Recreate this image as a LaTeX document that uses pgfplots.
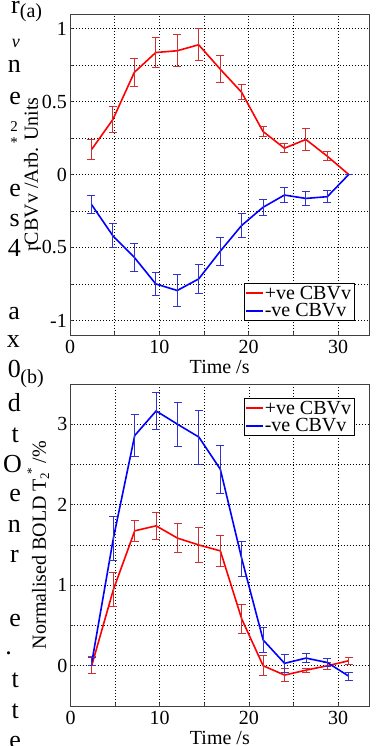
\documentclass[border=0pt]{standalone}
\usepackage{fontspec}
\setmainfont{Liberation Serif}
\usepackage{pgfplots}
\pgfplotsset{compat=1.18}
\definecolor{ebred}{RGB}{205,50,50}
\definecolor{ebblue}{RGB}{50,50,205}
\newcommand{\fs}{\fontsize{20bp}{22bp}\selectfont}
\newcommand{\fb}{\fontsize{26bp}{28bp}\selectfont}
\pgfplotsset{
  myaxis/.style={
    scale only axis, xmin=0, xmax=33.5, xtick={0,10,20,30}, minor xtick={5,15,25},
    grid=both,
    major grid style={black, line width=0.6bp, dash pattern=on 0.8bp off 2.2bp},
    minor grid style={black, line width=0.6bp, dash pattern=on 0.8bp off 2.2bp},
    axis line style={black!75, line width=0.8bp},
    tick align=inside, tick pos=left, major tick length=3bp, minor tick length=3bp,
    tick style={black!75, line width=0.6bp},
    /pgf/number format/assume math mode=true,
    ticklabel style={font=\fs, inner sep=0pt},
    xticklabel style={yshift=-5bp},
    yticklabel style={xshift=-3bp},
    label style={font=\fs, inner sep=0pt},
    xlabel style={at={(axis description cs:0.5,0)}, anchor=north, yshift=-25bp},
    legend style={font=\fs, draw=black, line width=0.8bp, inner xsep=2bp, inner ysep=2bp,
      row sep=1.5bp, cells={anchor=west}, nodes={inner xsep=1.5bp, inner ysep=0.5bp}},
    legend image code/.code={\fill[#1, draw=none] (0bp,-1bp) rectangle (17bp,1bp);},
    every axis plot/.append style={line width=1.6bp, mark=none},
  },
  eb/.style={error bars/.cd, y dir=both, y explicit,
    error bar style={line width=0.9bp, color=#1},
    error mark options={rotate=90, mark size=4bp, line width=0.9bp, color=#1}},
}
\begin{document}
\begin{tikzpicture}
\path[use as bounding box] (0,0) rectangle (376bp,746bp);
% fragments of the surrounding page text
\begin{scope}[every node/.style={font=\fb, inner sep=0pt, anchor=base east}]
\node at (20bp,732bp) {r};
\node[font=\fontsize{18bp}{18bp}\selectfont\itshape] at (20bp,698bp) {v};
\node at (21bp,673bp) {n};
\node at (21bp,641bp) {e};
\node[font=\fontsize{15bp}{15bp}\selectfont] at (18bp,614bp) {2};
\node[font=\fontsize{15bp}{15bp}\selectfont] at (18bp,598bp) {*};
\node at (21bp,549bp) {e};
\node at (20bp,519bp) {s};
\node at (21bp,489bp) {4};
\node at (20bp,426bp) {a};
\node at (20bp,398bp) {x};
\node at (21bp,368bp) {0};
\node at (21bp,334bp) {d};
\node at (19bp,303bp) {t};
\node at (22bp,273bp) {O};
\node at (21bp,244bp) {e};
\node at (21bp,213bp) {n};
\node at (19bp,183bp) {r};
\node at (21bp,119bp) {e};
\node at (12bp,91bp) {.};
\node at (19bp,58bp) {t};
\node at (19bp,28bp) {t};
\node at (21bp,-2bp) {e};
\end{scope}
\node[font=\fs, inner sep=0pt] at (31bp,733bp) {(a)};
\node[font=\fs, inner sep=0pt] at (32bp,367bp) {(b)};
% ---------------- panel (a)
\begin{axis}[myaxis, at={(70bp,411bp)}, anchor=south west,
  width=299.3bp, height=321bp, ymin=-1.1, ymax=1.1,
  ytick={-1,-0.5,0,0.5,1}, minor y tick num=1,
  xlabel={Time /s}, ylabel={rCBVv /Arb. Units},
  ylabel style={at={(axis description cs:-0.130,0.5)}, anchor=center},
  legend style={at={(axis description cs:0.952,0.0436)}, anchor=south east}]
\addplot[red, eb=ebred] coordinates {
(2.4,0.17) +- (0,0.07)
(4.8,0.377) +- (0,0.088)
(7.2,0.70) +- (0,0.097)
(9.6,0.836) +- (0,0.10)
(12,0.848) +- (0,0.11)
(14.4,0.889) +- (0,0.11)
(16.8,0.723) +- (0,0.09)
(19.2,0.564) +- (0,0.05)
(21.6,0.295) +- (0,0.037)
(24,0.18) +- (0,0.03)
(26.4,0.24) +- (0,0.075)
(28.8,0.125) +- (0,0.03)
(31.2,0) +- (0,0)
};
\addlegendentry{+ve CBVv}
\addplot[blue, eb=ebblue] coordinates {
(2.4,-0.205) +- (0,0.06)
(4.8,-0.42) +- (0,0.083)
(7.2,-0.568) +- (0,0.098)
(9.6,-0.75) +- (0,0.08)
(12,-0.795) +- (0,0.108)
(14.4,-0.716) +- (0,0.10)
(16.8,-0.527) +- (0,0.095)
(19.2,-0.35) +- (0,0.08)
(21.6,-0.225) +- (0,0.055)
(24,-0.141) +- (0,0.05)
(26.4,-0.164) +- (0,0.046)
(28.8,-0.152) +- (0,0.04)
(31.2,0) +- (0,0)
};
\addlegendentry{-ve CBVv}
\end{axis}
% ---------------- panel (b)
\begin{axis}[myaxis, at={(70.5bp,40bp)}, anchor=south west,
  width=298.8bp, height=322bp, ymin=-0.5, ymax=3.5,
  ytick={0,1,2,3}, minor y tick num=1,
  xlabel={Time /s},
  ylabel={Normalised BOLD T\rlap{\raisebox{-0.35ex}{\fontsize{13bp}{13bp}\selectfont 2}}\raisebox{1.1ex}{\fontsize{13bp}{13bp}\selectfont\,\,*}\ /\%},
  ylabel style={at={(axis description cs:-0.108,0.5)}, anchor=center},
  legend style={at={(axis description cs:0.952,0.9565)}, anchor=north east}]
\addplot[red, eb=ebred] coordinates {
(2.4,0.01) +- (0,0.11)
(4.8,0.943) +- (0,0.21)
(7.2,1.676) +- (0,0.13)
(9.6,1.738) +- (0,0.165)
(12,1.585) +- (0,0.18)
(14.4,1.50) +- (0,0.22)
(16.8,1.427) +- (0,0.19)
(19.2,0.58) +- (0,0.18)
(21.6,0.0) +- (0,0.125)
(24,-0.116) +- (0,0.08)
(26.4,-0.055) +- (0,0.025)
(28.8,0.0) +- (0,0.04)
(31.2,0.062) +- (0,0.045)
};
\addlegendentry{+ve CBVv}
\addplot[blue, eb=ebblue] coordinates {
(2.4,0.05) +- (0,0.05)
(4.8,1.58) +- (0,0.275)
(7.2,2.86) +- (0,0.26)
(9.6,3.165) +- (0,0.23)
(12,3.0) +- (0,0.27)
(14.4,2.84) +- (0,0.335)
(16.8,2.44) +- (0,0.30)
(19.2,1.33) +- (0,0.22)
(21.6,0.32) +- (0,0.15)
(24,0.03) +- (0,0.11)
(26.4,0.095) +- (0,0.055)
(28.8,0.04) +- (0,0.045)
(31.2,-0.13) +- (0,0.05)
};
\addlegendentry{-ve CBVv}
\end{axis}
\end{tikzpicture}
\end{document}
